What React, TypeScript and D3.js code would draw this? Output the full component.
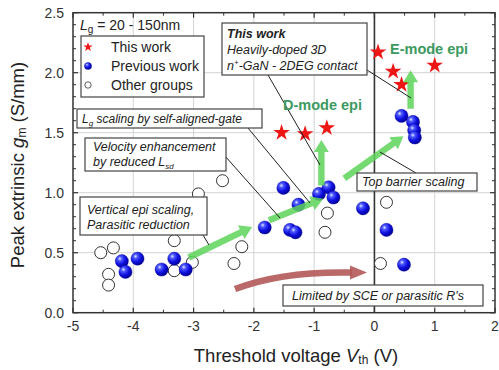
import React from "react";
import * as d3 from "d3";

// Threshold voltage (V) and peak extrinsic gm (S/mm) per device group
const thisWorkVth = [-1.54, -1.15, -0.79, 0.06, 0.31, 0.45, 1.0];
const thisWorkGm = [1.5, 1.49, 1.54, 2.17, 2.01, 1.9, 2.06];

const previousVth = [-4.19, -4.13, -3.93, -3.53, -3.32, -3.13, -1.82, -1.51, -1.4, -1.31, -1.26, -0.92, -0.76, -0.68, -0.19, 0.2, 0.49, 0.45, 0.64, 0.66, 0.67];
const previousGm = [0.43, 0.34, 0.45, 0.36, 0.45, 0.36, 0.71, 1.04, 0.69, 0.67, 0.9, 0.99, 1.045, 0.96, 0.87, 0.69, 0.4, 1.64, 1.59, 1.52, 1.46];

const otherVth = [-4.54, -4.33, -4.41, -4.41, -3.32, -3.32, -3.02, -2.92, -2.52, -2.2, -2.33, -0.78, -0.82, 0.1, 0.2];
const otherGm = [0.5, 0.54, 0.32, 0.23, 0.6, 0.35, 0.42, 0.99, 1.1, 0.55, 0.41, 0.83, 0.67, 0.41, 0.92];

const xTicks = [-5, -4, -3, -2, -1, 0, 1, 2];
const yTicks = [0, 0.5, 1.0, 1.5, 2.0, 2.5];

// Trend arrows in data coordinates [v0, g0, v1, g1]
const trendArrows: [number, number, number, number][] = [
  [-3.08, 0.46, -2.03, 0.715],
  [-1.75, 0.77, -0.85, 0.95],
  [-0.88, 1.06, -0.88, 1.44],
  [-0.5, 1.12, 0.48, 1.47],
  [0.6, 1.7, 0.6, 2.02],
];

const W = 499;
const H = 370;
const x = d3.scaleLinear().domain([-5, 2]).range([73, 495]);
const y = d3.scaleLinear().domain([0, 2.5]).range([312.7, 12.7]);

const FONT = "'Liberation Sans', Arial, sans-serif";

function arrowPoints(x1: number, y1: number, x2: number, y2: number, w = 3.2, hl = 12, hw = 7.5) {
  const dx = x2 - x1, dy = y2 - y1;
  const L = Math.hypot(dx, dy);
  const ux = dx / L, uy = dy / L;
  const nx = -uy, ny = ux;
  const bx = x2 - ux * hl, by = y2 - uy * hl;
  const pts = [
    [x1 + nx * w, y1 + ny * w],
    [bx + nx * w, by + ny * w],
    [bx + nx * hw, by + ny * hw],
    [x2, y2],
    [bx - nx * hw, by - ny * hw],
    [bx - nx * w, by - ny * w],
    [x1 - nx * w, y1 - ny * w],
  ];
  return pts.map((p) => p.join(",")).join(" ");
}

const star = d3.symbol().type(d3.symbolStar);

function Ball({ cx, cy, r }: { cx: number; cy: number; r: number }) {
  return <circle cx={cx} cy={cy} r={r} fill="url(#ballGrad)" stroke="#00008a" strokeWidth={0.4} />;
}

function Box({ x0, y0, x1, y1 }: { x0: number; y0: number; x1: number; y1: number }) {
  return <rect x={x0} y={y0} width={x1 - x0} height={y1 - y0} fill="#fff" stroke="#444" strokeWidth={1.2} />;
}

export default function App() {
  const [x0, x1] = x.range();
  const [y0, y1] = y.range();
  const xMinor = d3.range(-4.5, 2, 1);
  const yMinor = d3.range(0, 2.5001, 0.1).filter((v) => Math.abs(v * 2 - Math.round(v * 2)) > 1e-6);
  const italic = { fontStyle: "italic" as const };

  return (
    <svg width={W} height={H} style={{ display: "block", position: "absolute", left: 0, top: 0 }} fontFamily={FONT}>
      <defs>
        <radialGradient id="ballGrad" cx="35%" cy="32%" r="70%">
          <stop offset="0%" stopColor="#e6ecff" />
          <stop offset="22%" stopColor="#4f5cff" />
          <stop offset="60%" stopColor="#1010e0" />
          <stop offset="100%" stopColor="#00009a" />
        </radialGradient>
      </defs>
      <rect width={W} height={H} fill="#fff" />

      {/* grid */}
      {xTicks.slice(1, -1).filter((t) => t !== 0).map((t) => (
        <line key={"gx" + t} x1={x(t)} x2={x(t)} y1={y1} y2={y0} stroke="#cfcfcf" strokeWidth={0.9} />
      ))}
      {yTicks.slice(1, -1).map((t) => (
        <line key={"gy" + t} x1={x0} x2={x1} y1={y(t)} y2={y(t)} stroke="#cfcfcf" strokeWidth={0.9} />
      ))}
      <line x1={x(0)} x2={x(0)} y1={y1} y2={y0} stroke="#333" strokeWidth={1.6} />

      {/* frame and ticks */}
      <rect x={x0} y={y1} width={x1 - x0} height={y0 - y1} fill="none" stroke="#333" strokeWidth={1.5} />
      {xTicks.map((t) => (
        <g key={"tx" + t}>
          <line x1={x(t)} x2={x(t)} y1={y0} y2={y0 - 5} stroke="#333" strokeWidth={1.2} />
          <line x1={x(t)} x2={x(t)} y1={y1} y2={y1 + 5} stroke="#333" strokeWidth={1.2} />
          <text x={x(t)} y={331} textAnchor="middle" fontSize={14} fill="#333">{t}</text>
        </g>
      ))}
      {xMinor.map((t) => (
        <g key={"mx" + t}>
          <line x1={x(t)} x2={x(t)} y1={y0} y2={y0 - 3} stroke="#333" strokeWidth={1} />
          <line x1={x(t)} x2={x(t)} y1={y1} y2={y1 + 3} stroke="#333" strokeWidth={1} />
        </g>
      ))}
      {yTicks.map((t) => (
        <g key={"ty" + t}>
          <line x1={x0} x2={x0 + 5} y1={y(t)} y2={y(t)} stroke="#333" strokeWidth={1.2} />
          <line x1={x1} x2={x1 - 5} y1={y(t)} y2={y(t)} stroke="#333" strokeWidth={1.2} />
          <text x={64} y={y(t) + 5} textAnchor="end" fontSize={14} fill="#333">{t.toFixed(1)}</text>
        </g>
      ))}
      {yMinor.map((t) => (
        <g key={"my" + t}>
          <line x1={x0} x2={x0 + 3} y1={y(t)} y2={y(t)} stroke="#333" strokeWidth={1} />
          <line x1={x1} x2={x1 - 3} y1={y(t)} y2={y(t)} stroke="#333" strokeWidth={1} />
        </g>
      ))}

      {/* axis titles */}
      <text x={296} y={362} textAnchor="middle" fontSize={18.5} fill="#222">
        Threshold voltage <tspan fontStyle="italic">V</tspan>
        <tspan fontSize={12} dy={2}>th</tspan>
        <tspan dy={-2}> (V)</tspan>
      </text>
      <text transform={`translate(24,${165}) rotate(-90)`} textAnchor="middle" fontSize={18.5} fill="#222">
        Peak extrinsic <tspan fontStyle="italic">g</tspan>
        <tspan fontSize={12} dy={2}>m</tspan>
        <tspan dy={-2}> (S/mm)</tspan>
      </text>

      {/* data */}
      {otherVth.map((v, i) => (
        <circle key={"o" + i} cx={x(v)} cy={y(otherGm[i])} r={6} fill="#fff" stroke="#333" strokeWidth={1} />
      ))}
      {previousVth.map((v, i) => (
        <Ball key={"p" + i} cx={x(v)} cy={y(previousGm[i])} r={6.6} />
      ))}
      {thisWorkVth.map((v, i) => (
        <path key={"s" + i} d={star.size(85)() as string} transform={`translate(${x(v)},${y(thisWorkGm[i])})`} fill="#ee1515" />
      ))}

      {/* trend arrows */}
      {trendArrows.map(([a, b, c, d], i) => (
        <polygon key={"ar" + i} points={arrowPoints(x(a), y(b), x(c), y(d))} fill="#5ed35a" opacity={0.85} />
      ))}
      <path d="M235,289 Q282,271 352,272.5" fill="none" stroke="#b35858" strokeWidth={6.5} opacity={0.9} />
      <polygon points="350,265.5 367,272.5 350,279.5" fill="#b35858" opacity={0.9} />

      {/* leader lines */}
      <g stroke="#222" strokeWidth={1}>
        <line x1={268} y1={75} x2={320} y2={165} />
        <line x1={367} y1={70} x2={411} y2={98} />
        <line x1={248} y1={128} x2={310} y2={203} />
        <line x1={225} y1={156} x2={280} y2={218} />
        <line x1={203} y1={235} x2={209} y2={245} />
        <line x1={416} y1={173} x2={380} y2={152} />
      </g>

      {/* annotations */}
      <text x={80} y={30} fontSize={14} fill="#222">
        <tspan fontStyle="italic">L</tspan>
        <tspan fontSize={10} dy={3}>g</tspan>
        <tspan dy={-3}> = 20 - 150nm</tspan>
      </text>

      <Box x0={81} y0={36} x1={204} y1={97} />
      <path d={star.size(28)() as string} transform="translate(88,47)" fill="#ee1515" />
      <Ball cx={88} cy={66} r={3.6} />
      <circle cx={88} cy={85} r={3.2} fill="#fff" stroke="#333" strokeWidth={0.8} />
      <g fontSize={14} fill="#222">
        <text x={111} y={52}>This work</text>
        <text x={111} y={71}>Previous work</text>
        <text x={111} y={90}>Other groups</text>
      </g>

      <Box x0={222} y0={23} x1={367} y1={75} />
      <g fontSize={12.5} fill="#222" style={italic}>
        <text x={227} y={38} fontWeight="bold">This work</text>
        <text x={227} y={54}>Heavily-doped 3D</text>
        <text x={227} y={70}>
          n<tspan fontSize={8} dy={-5}>+</tspan><tspan dy={5}>-GaN - 2DEG contact</tspan>
        </text>
      </g>

      <Box x0={77} y0={109} x1={262} y1={128} />
      <text x={82} y={123} fontSize={12} fill="#222" style={italic}>
        L<tspan fontSize={8} dy={3}>g</tspan><tspan dy={-3}> scaling by self-aligned-gate</tspan>
      </text>

      <Box x0={85} y0={138} x1={226} y1={171} />
      <g fontSize={12.5} fill="#222" style={italic}>
        <text x={93} y={151}>Velocity enhancement</text>
        <text x={93} y={166}>
          by reduced L<tspan fontSize={8} dy={3}>sd</tspan>
        </text>
      </g>

      <Box x0={80} y0={197} x1={207} y1={235} />
      <g fontSize={12.5} fill="#222" style={italic}>
        <text x={87} y={214}>Vertical epi scaling,</text>
        <text x={87} y={229}>Parasitic reduction</text>
      </g>

      <Box x0={357} y0={173} x1={477} y1={191} />
      <text x={362} y={186} fontSize={12.5} fill="#222" style={italic}>Top barrier scaling</text>

      <Box x0={283} y0={285} x1={483} y1={306} />
      <text x={292} y={300} fontSize={12.5} fill="#222" style={italic}>Limited by SCE or parasitic R's</text>

      <g fontSize={14.5} fontWeight="bold" fill="#3c9a60">
        <text x={390} y={54}>E-mode epi</text>
        <text x={283} y={110}>D-mode epi</text>
      </g>
    </svg>
  );
}
